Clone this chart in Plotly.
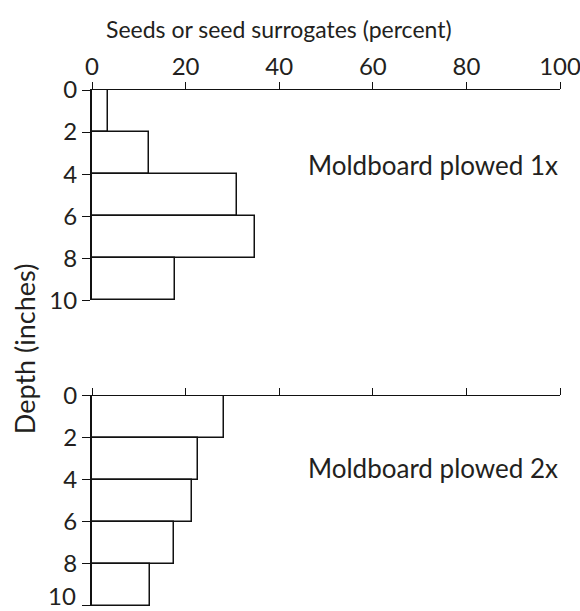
import plotly.graph_objects as go

depth_edges = [0, 2, 4, 6, 8, 10]
plowed_1x = [3.5, 12.2, 30.9, 34.9, 17.7]
plowed_2x = [28.3, 22.6, 21.3, 17.5, 12.3]
panel_labels = ["Moldboard plowed 1x", "Moldboard plowed 2x"]
x_ticks = [0, 20, 40, 60, 80, 100]
y_ticks = [0, 2, 4, 6, 8, 10]

centers = [(a + b) / 2 for a, b in zip(depth_edges[:-1], depth_edges[1:])]
widths = [b - a for a, b in zip(depth_edges[:-1], depth_edges[1:])]

FONT = "Lato"
TXT = "#231f20"

fig = go.Figure()
for i, vals in enumerate([plowed_1x, plowed_2x]):
    fig.add_trace(go.Bar(
        x=vals, y=centers, width=widths, orientation="h",
        marker=dict(color="white", line=dict(color="#111", width=1.5)),
        xaxis="x" if i == 0 else "x2", yaxis="y" if i == 0 else "y2",
        showlegend=False, hoverinfo="x+y",
    ))

W, H = 580, 611
ml, mt = 92, 90
mr = W - 560
mb = H - 605.7
pw = W - ml - mr
ph = H - mt - mb

def px(sx):
    return (sx - ml) / pw

def py(sy):
    return (H - mb - sy) / ph

common_x = dict(range=[0, 100], tickvals=x_ticks, ticks="outside", ticklen=7,
                tickwidth=1.2, tickcolor="#111", showline=True, linecolor="#111",
                linewidth=1.2, showgrid=False, zeroline=False, side="top",
                tickfont=dict(family=FONT, size=24, color=TXT), fixedrange=True,
                automargin=False, ticklabeloverflow="allow", ticklabelstandoff=-3)
common_y = dict(range=[10, 0], tickvals=y_ticks, ticks="outside", ticklen=8,
                tickwidth=1.2, tickcolor="#111", showline=True, linecolor="#111",
                linewidth=2, showgrid=False, zeroline=False,
                tickfont=dict(family=FONT, size=24, color=TXT), fixedrange=True,
                automargin=False, ticklabeloverflow="allow")

# bottom-most "10" is nudged up to stay inside the frame (as in the original)
y2_text = [str(v) for v in y_ticks[:-1]] + [""]

fig.update_layout(
    width=W, height=H,
    margin=dict(l=ml, r=mr, t=mt, b=mb, autoexpand=False),
    paper_bgcolor="white", plot_bgcolor="white",
    bargap=0,
    xaxis=dict(common_x, anchor="y", domain=[0, 1]),
    yaxis=dict(common_y, anchor="x", domain=[py(300.3), 1.0]),
    xaxis2=dict(common_x, anchor="y2", domain=[0, 1], showticklabels=False),
    yaxis2=dict(common_y, anchor="x2", domain=[0.0, py(395.7)], ticktext=y2_text),
    annotations=[
        dict(text="Seeds or seed surrogates (percent)", xref="paper", yref="paper",
             x=px(279), y=py(29), xanchor="center", yanchor="middle", showarrow=False,
             font=dict(family=FONT, size=23, color=TXT)),
        dict(text="Depth (inches)", xref="paper", yref="paper", x=px(24),
             y=py(349), xanchor="center", yanchor="middle", textangle=-90,
             showarrow=False, font=dict(family=FONT, size=27, color=TXT)),
        dict(text=panel_labels[0], xref="paper", yref="paper", x=px(560),
             y=py(165), xanchor="right", yanchor="middle", showarrow=False,
             font=dict(family=FONT, size=26, color=TXT)),
        dict(text=panel_labels[1], xref="paper", yref="paper", x=px(560),
             y=py(468), xanchor="right", yanchor="middle", showarrow=False,
             font=dict(family=FONT, size=26, color=TXT)),
        dict(text=str(y_ticks[-1]), xref="paper", yref="paper", x=px(77),
             y=py(611), xanchor="right", yanchor="bottom", showarrow=False,
             borderpad=0, font=dict(family=FONT, size=24, color=TXT)),
    ],
)

fig.write_html(
    "out.html",
    config={"displayModeBar": False},
    post_script=("document.documentElement.style.margin='0';"
                 "document.body.style.margin='0';"
                 "document.documentElement.style.overflow='hidden';"
                 "document.body.style.overflow='hidden';"),
)
